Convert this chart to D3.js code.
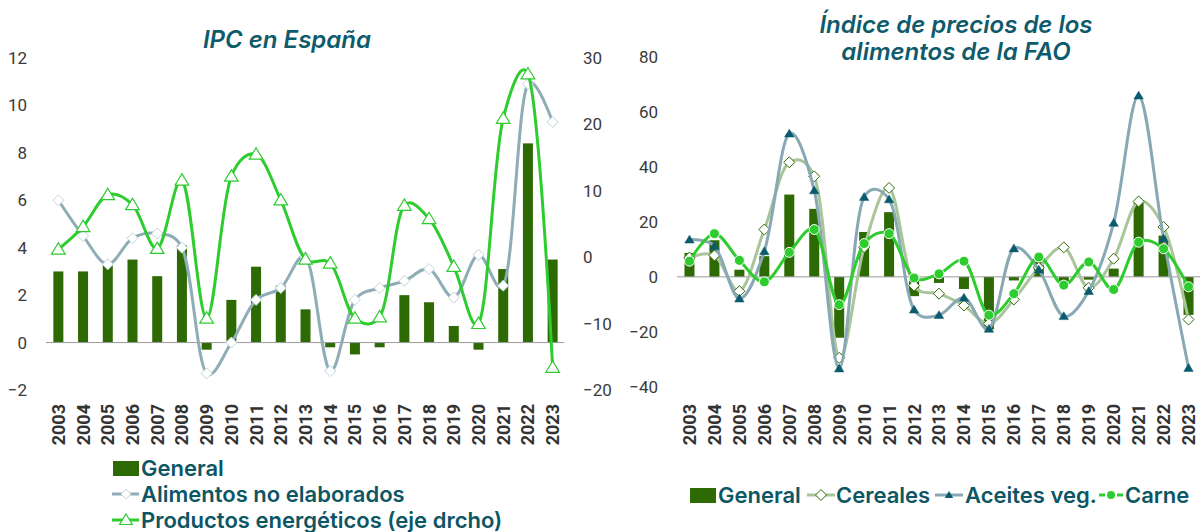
<!DOCTYPE html>
<html>
<head>
<meta charset="utf-8">
<script src="https://cdn.jsdelivr.net/npm/d3@7"></script>
<style>
  body { margin: 0; background: #fff; }
  svg { display: block; }
  .tick text { font-family: Roboto, sans-serif; fill: #3a3a3a; }
</style>
</head>
<body>
<script>
// years shared by both charts
var years = ["2003","2004","2005","2006","2007","2008","2009","2010","2011","2012","2013",
             "2014","2015","2016","2017","2018","2019","2020","2021","2022","2023"];

// IPC en España
var ipcGeneral = [3.0, 3.0, 3.3, 3.5, 2.8, 4.1, -0.3, 1.8, 3.2, 2.4, 1.4, -0.2, -0.5, -0.2, 2.0, 1.7, 0.7, -0.3, 3.1, 8.4, 3.5];
var ipcAlimentos = [6.0, 4.5, 3.3, 4.4, 4.6, 4.0, -1.3, 0.0, 1.8, 2.3, 3.6, -1.2, 1.8, 2.3, 2.6, 3.1, 1.9, 3.7, 2.4, 10.9, 9.3];
var ipcEnergeticos = [1.2, 4.6, 9.4, 7.9, 1.3, 11.6, -9.2, 12.2, 15.5, 8.6, -0.3, -0.9, -9.2, -9.0, 7.8, 5.8, -1.4, -10.0, 20.9, 27.6, -16.6];
var ipcLeftTicks = [-2, 0, 2, 4, 6, 8, 10, 12];
var ipcRightTicks = [-20, -10, 0, 10, 20, 30];

// Índice de precios de los alimentos de la FAO
var faoGeneral = [8.7, 13.3, 2.6, 7.5, 29.9, 24.7, -22.1, 16.3, 23.5, -7.0, -2.2, -4.4, -19.1, -1.3, 5.5, -1.6, -1.0, 3.0, 27.0, 15.0, -13.8];
var faoCereales = [7.0, 7.8, -5.2, 17.2, 41.6, 36.5, -29.4, 10.8, 32.3, -3.2, -6.1, -10.4, -17.0, -8.2, 3.3, 10.7, -4.0, 6.6, 27.4, 18.1, -15.5];
var faoAceites = [13.5, 11.2, -7.9, 9.3, 52.0, 31.4, -33.3, 29.0, 28.1, -11.9, -13.9, -7.6, -18.9, 10.3, 2.6, -14.3, -5.2, 19.6, 65.8, 13.9, -33.1];
var faoCarne = [5.7, 15.7, 6.0, -1.8, 8.9, 17.2, -10.1, 12.1, 15.7, -0.4, 1.1, 5.7, -13.9, -6.1, 7.2, -3.0, 5.4, -4.6, 12.6, 10.2, -3.6];
var faoTicks = [-40, -20, 0, 20, 40, 60, 80];

var W = 1200, H = 532;
var titleColor = "#0e5b6c", legendColor = "#0d5664";
var barColor = "#2d6a04";

var svg = d3.select("body").append("svg").attr("width", W).attr("height", H);

// excel-like smoothing
var smooth = d3.curveCatmullRom.alpha(0.25);

function diamondPath(s) {
  return "M0," + (-s) + "L" + s + ",0L0," + s + "L" + (-s) + ",0Z";
}
function trianglePath(s) {
  return "M0," + (-s) + "L" + (s * 1.05) + "," + (s * 0.75) + "L" + (-s * 1.05) + "," + (s * 0.75) + "Z";
}

function yearAxis(g, x, y) {
  g.attr("transform", "translate(0," + y + ")")
    .call(d3.axisBottom(x).tickSize(0))
    .call(function(a) { a.select(".domain").remove(); })
    .selectAll("text")
    .attr("x", 0).attr("y", 0).attr("dy", "0.36em")
    .attr("transform", "rotate(-90)")
    .style("text-anchor", "end")
    .style("font-size", "18px").style("font-weight", "bold").style("fill", "#333");
}

// ---------- left chart: IPC ----------
var x1 = d3.scaleBand().domain(years).range([46, 565]);
var y1 = d3.scaleLinear().domain([-2, 12]).range([390, 58]);
var y1r = d3.scaleLinear().domain([-20, 30]).range([390, 58]);

var left = svg.append("g");

left.append("g").attr("transform", "translate(46,0)")
  .call(d3.axisLeft(y1).tickValues(ipcLeftTicks).tickSize(0).tickPadding(19))
  .call(function(a) { a.select(".domain").remove(); })
  .selectAll("text").style("font-size", "17px");

left.append("g").attr("transform", "translate(565,0)")
  .call(d3.axisRight(y1r).tickValues(ipcRightTicks).tickSize(0).tickPadding(18))
  .call(function(a) { a.select(".domain").remove(); })
  .selectAll("text").style("font-size", "17px");

var bw1 = 10;
left.selectAll("rect.bar").data(ipcGeneral).enter().append("rect")
  .attr("class", "bar")
  .attr("x", function(d, i) { return x1(years[i]) + x1.bandwidth() / 2 - bw1 / 2; })
  .attr("y", function(d) { return y1(Math.max(0, d)); })
  .attr("width", bw1)
  .attr("height", function(d) { return Math.abs(y1(d) - y1(0)); })
  .attr("fill", barColor);

left.append("line")
  .attr("x1", 46).attr("x2", 564).attr("y1", y1(0)).attr("y2", y1(0))
  .attr("stroke", "#9a9a9a").attr("stroke-width", 1);

var cx1 = function(i) { return x1(years[i]) + x1.bandwidth() / 2; };

left.append("path").datum(ipcAlimentos)
  .attr("fill", "none").attr("stroke", "#8eadb7").attr("stroke-width", 3)
  .attr("d", d3.line().x(function(d, i) { return cx1(i); }).y(function(d) { return y1(d); }).curve(smooth));

left.selectAll("path.dia").data(ipcAlimentos).enter().append("path")
  .attr("class", "dia")
  .attr("transform", function(d, i) { return "translate(" + cx1(i) + "," + y1(d) + ")"; })
  .attr("d", diamondPath(5.5))
  .attr("fill", "#fff").attr("stroke", "#c3d4db").attr("stroke-width", 1);

left.append("path").datum(ipcEnergeticos)
  .attr("fill", "none").attr("stroke", "#2ecc2e").attr("stroke-width", 3)
  .attr("d", d3.line().x(function(d, i) { return cx1(i); }).y(function(d) { return y1r(d); }).curve(smooth));

left.selectAll("path.tri").data(ipcEnergeticos).enter().append("path")
  .attr("class", "tri")
  .attr("transform", function(d, i) { return "translate(" + cx1(i) + "," + y1r(d) + ")"; })
  .attr("d", trianglePath(6.5))
  .attr("fill", "#fff").attr("stroke", "#2ecc2e").attr("stroke-width", 1.2);

yearAxis(left.append("g"), x1, 404);

left.append("text")
  .attr("x", 287).attr("y", 48).attr("text-anchor", "middle")
  .style("font-family", "Inter, sans-serif").style("font-style", "italic")
  .style("font-weight", 600).style("font-size", "24px").style("fill", titleColor)
  .text("IPC en España");

// legend left
var legL = left.append("g").style("font-family", "Inter, sans-serif")
  .style("font-weight", 600).style("font-size", "22px").style("fill", legendColor);
legL.append("rect").attr("x", 113).attr("y", 461).attr("width", 26).attr("height", 15).attr("fill", barColor);
legL.append("text").attr("x", 141).attr("y", 476).text("General");
legL.append("line").attr("x1", 112).attr("x2", 139).attr("y1", 494).attr("y2", 494)
  .attr("stroke", "#8eadb7").attr("stroke-width", 3);
legL.append("path").attr("transform", "translate(126,494)").attr("d", diamondPath(5))
  .attr("fill", "#fff").attr("stroke", "#c3d4db");
legL.append("text").attr("x", 141).attr("y", 502).text("Alimentos no elaborados");
legL.append("line").attr("x1", 112).attr("x2", 139).attr("y1", 520).attr("y2", 520)
  .attr("stroke", "#2ecc2e").attr("stroke-width", 3);
legL.append("path").attr("transform", "translate(126,520)").attr("d", trianglePath(6))
  .attr("fill", "#fff").attr("stroke", "#2ecc2e").attr("stroke-width", 1.2);
legL.append("text").attr("x", 141).attr("y", 528).text("Productos energéticos (eje drcho)");

// ---------- right chart: FAO ----------
var x2 = d3.scaleBand().domain(years).range([677, 1201]);
var y2 = d3.scaleLinear().domain([-40, 80]).range([387, 56.6]);

var right = svg.append("g");

right.append("g").attr("transform", "translate(677,0)")
  .call(d3.axisLeft(y2).tickValues(faoTicks).tickSize(0).tickPadding(19))
  .call(function(a) { a.select(".domain").remove(); })
  .selectAll("text").style("font-size", "17px");

var bw2 = 10;
right.selectAll("rect.bar").data(faoGeneral).enter().append("rect")
  .attr("class", "bar")
  .attr("x", function(d, i) { return x2(years[i]) + x2.bandwidth() / 2 - bw2 / 2; })
  .attr("y", function(d) { return y2(Math.max(0, d)); })
  .attr("width", bw2)
  .attr("height", function(d) { return Math.abs(y2(d) - y2(0)); })
  .attr("fill", barColor);

right.append("line")
  .attr("x1", 677).attr("x2", 1200).attr("y1", y2(0)).attr("y2", y2(0))
  .attr("stroke", "#9a9a9a").attr("stroke-width", 1);

var cx2 = function(i) { return x2(years[i]) + x2.bandwidth() / 2; };
var line2 = d3.line().x(function(d, i) { return cx2(i); }).y(function(d) { return y2(d); }).curve(smooth);

right.append("path").datum(faoCereales)
  .attr("fill", "none").attr("stroke", "#a9c59a").attr("stroke-width", 3).attr("d", line2);
right.selectAll("path.dia").data(faoCereales).enter().append("path")
  .attr("class", "dia")
  .attr("transform", function(d, i) { return "translate(" + cx2(i) + "," + y2(d) + ")"; })
  .attr("d", diamondPath(5.5))
  .attr("fill", "#fff").attr("stroke", "#2d6a04").attr("stroke-width", 1);

right.append("path").datum(faoAceites)
  .attr("fill", "none").attr("stroke", "#88a9b4").attr("stroke-width", 3).attr("d", line2);
right.selectAll("path.tri").data(faoAceites).enter().append("path")
  .attr("class", "tri")
  .attr("transform", function(d, i) { return "translate(" + cx2(i) + "," + y2(d) + ")"; })
  .attr("d", trianglePath(4.5))
  .attr("fill", "#0b5a6e").attr("stroke", "#0b5a6e").attr("stroke-width", 0.5);

right.append("path").datum(faoCarne)
  .attr("fill", "none").attr("stroke", "#2ecc2e").attr("stroke-width", 3).attr("d", line2);
right.selectAll("circle.dot").data(faoCarne).enter().append("circle")
  .attr("class", "dot")
  .attr("cx", function(d, i) { return cx2(i); })
  .attr("cy", function(d) { return y2(d); })
  .attr("r", 5)
  .attr("fill", "#2ecc2e").attr("stroke", "#fff").attr("stroke-width", 1);

yearAxis(right.append("g"), x2, 404);

var t2 = right.append("text").attr("text-anchor", "middle")
  .style("font-family", "Inter, sans-serif").style("font-style", "italic")
  .style("font-weight", 600).style("font-size", "24px").style("fill", titleColor);
t2.append("tspan").attr("x", 956).attr("y", 33).text("Índice de precios de los");
t2.append("tspan").attr("x", 956).attr("y", 60).text("alimentos de la FAO");

// legend right
var legR = right.append("g").style("font-family", "Inter, sans-serif")
  .style("font-weight", 600).style("font-size", "22px").style("fill", legendColor);
legR.append("rect").attr("x", 690).attr("y", 488).attr("width", 26).attr("height", 15).attr("fill", barColor);
legR.append("text").attr("x", 718).attr("y", 503).text("General");
legR.append("line").attr("x1", 807).attr("x2", 835).attr("y1", 495).attr("y2", 495)
  .attr("stroke", "#a9c59a").attr("stroke-width", 3);
legR.append("path").attr("transform", "translate(821,495)").attr("d", diamondPath(5.5))
  .attr("fill", "#fff").attr("stroke", "#2d6a04");
legR.append("text").attr("x", 836).attr("y", 503).text("Cereales");
legR.append("line").attr("x1", 935).attr("x2", 963).attr("y1", 495).attr("y2", 495)
  .attr("stroke", "#88a9b4").attr("stroke-width", 3);
legR.append("path").attr("transform", "translate(949,495)").attr("d", trianglePath(4))
  .attr("fill", "#0b5a6e");
legR.append("text").attr("x", 965).attr("y", 503).text("Aceites veg.");
legR.append("line").attr("x1", 1099).attr("x2", 1123).attr("y1", 495).attr("y2", 495)
  .attr("stroke", "#2ecc2e").attr("stroke-width", 3).attr("stroke-dasharray", "6,3");
legR.append("circle").attr("cx", 1111).attr("cy", 495).attr("r", 4).attr("fill", "#2ecc2e");
legR.append("text").attr("x", 1125).attr("y", 503).text("Carne");
</script>
</body>
</html>
